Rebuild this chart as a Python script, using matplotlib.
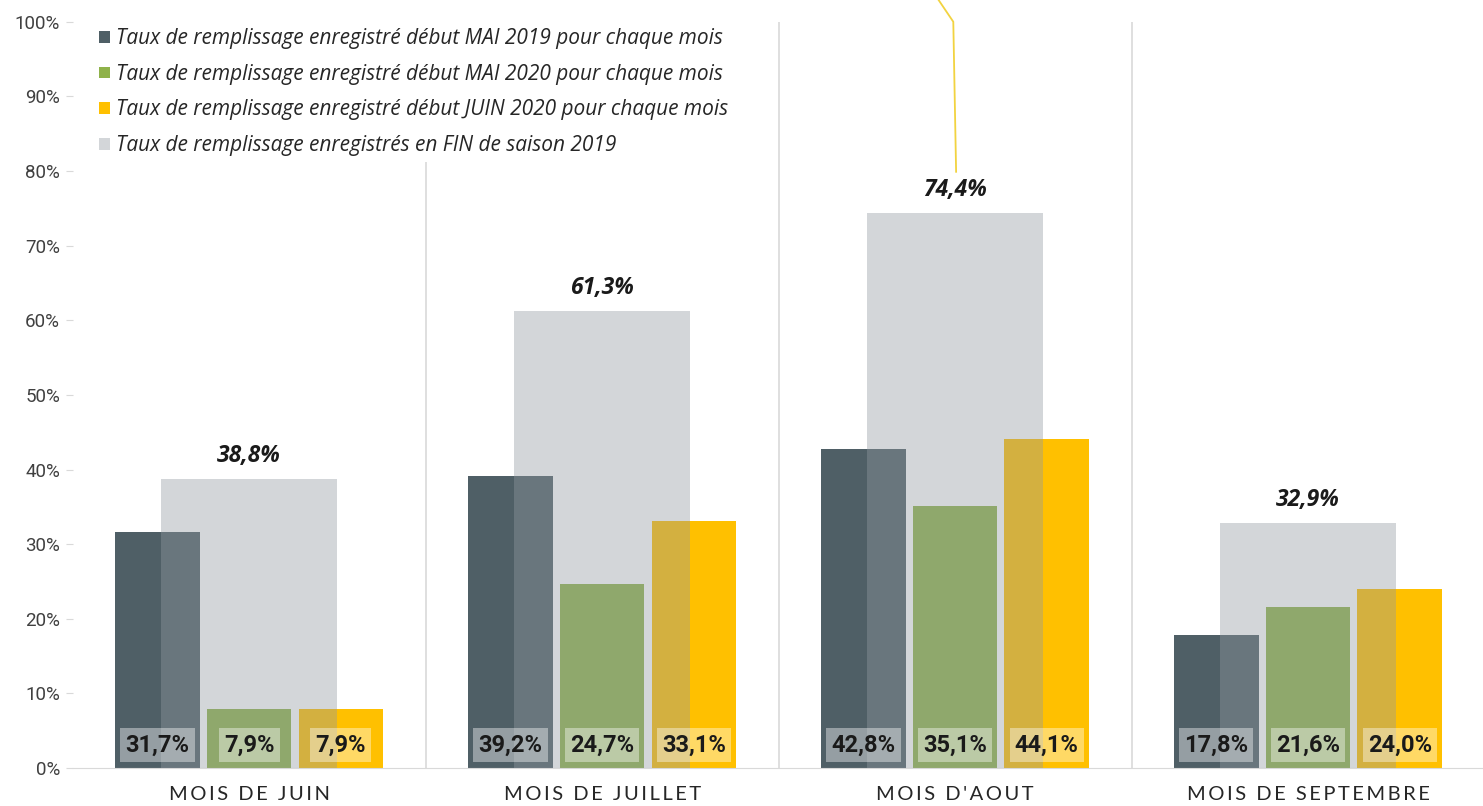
import numpy as np
import matplotlib
matplotlib.use("Agg")
from matplotlib import pyplot as plt

mois = ["MOIS DE JUIN", "MOIS DE JUILLET", "MOIS D'AOUT", "MOIS DE SEPTEMBRE"]
mai_2019 = [31.7, 39.2, 42.8, 17.8]
mai_2020 = [7.9, 24.7, 35.1, 21.6]
juin_2020 = [7.9, 33.1, 44.1, 24.0]
fin_2019 = [38.8, 61.3, 74.4, 32.9]

legendes = [
    "Taux de remplissage enregistré début MAI 2019 pour chaque mois",
    "Taux de remplissage enregistré début MAI 2020 pour chaque mois",
    "Taux de remplissage enregistré début JUIN 2020 pour chaque mois",
    "Taux de remplissage enregistrés en FIN de saison 2019",
]

c_2019 = "#4f5f66"
c_mai20 = "#8fb24a"
c_juin20 = "#ffc000"
c_fin = (0.57, 0.60, 0.63, 0.4)

plt.rcParams["font.family"] = ["Open Sans", "DejaVu Sans"]

fig = plt.figure(figsize=(14.83, 8.06), dpi=100)
ax = fig.add_axes([0.049, 0.047, 0.952, 0.926])

x = np.arange(len(mois))
w = 0.24
off = 0.26

b1 = ax.bar(x - off, mai_2019, w, color=c_2019, label=legendes[0], zorder=2)
b2 = ax.bar(x, mai_2020, w, color=c_mai20, label=legendes[1], zorder=2)
b3 = ax.bar(x + off, juin_2020, w, color=c_juin20, label=legendes[2], zorder=2)
# grey "fin de saison" bar drawn on top, semi transparent
b4 = ax.bar(x, fin_2019, 0.5, color=c_fin, label=legendes[3], zorder=3)

for bars, vals in [(b1, mai_2019), (b2, mai_2020), (b3, juin_2020)]:
    for rect, v in zip(bars, vals):
        ax.text(rect.get_x() + rect.get_width() / 2, 3.1,
                f"{v:.1f}%".replace(".", ","),
                ha="center", va="center", fontsize=17, fontweight="bold",
                color="#1a1a1a", zorder=5, family=["Roboto", "DejaVu Sans"],
                bbox=dict(boxstyle="square,pad=0.22", fc=(1, 1, 1, 0.4), ec="none"))

for xi, v in zip(x, fin_2019):
    ax.text(xi, v + 3.0, f"{v:.1f}%".replace(".", ","), ha="center", va="center",
            fontsize=16.5, fontweight="bold", fontstyle="italic", color="#1a1a1a", zorder=5)

# dividers between months
for xi in x[:-1] + 0.5:
    ax.plot([xi, xi], [0, 100], color="#d9d9d9", lw=1.2, zorder=0)

# leader line coming from a callout above the chart (August)
i_aout = 2
ax.plot([i_aout + 0.003, i_aout - 0.005, i_aout - 0.055],
        [fin_2019[i_aout] + 5.5, 100, 103.5],
        color="#f2d340", lw=1.3, clip_on=False, zorder=4)

ax.set_xlim(-0.5, 3.5)
ax.set_ylim(0, 100)
ax.set_yticks(np.arange(0, 101, 10))
ax.set_yticklabels([f"{t}%" for t in range(0, 101, 10)], fontsize=13.5, color="#404040",
                   family=["Roboto", "DejaVu Sans"])
ax.tick_params(axis="y", length=5, color="#d9d9d9", pad=4)
ax.set_xticks(x)
# spaced capitals like the original
ax.set_xticklabels(["\u2009".join(m) for m in mois], fontsize=14.5, color="#262626",
                   family=["Lato", "DejaVu Sans"])
ax.tick_params(axis="x", length=0, pad=13)
for s in ["top", "right", "left"]:
    ax.spines[s].set_visible(False)
ax.spines["bottom"].set_color("#d9d9d9")

leg = ax.legend(loc="upper left", bbox_to_anchor=(0.01, 1.008), frameon=True,
                framealpha=1, edgecolor="none", facecolor="white",
                handlelength=0.5, handleheight=0.5, handletextpad=0.3,
                labelspacing=0.7, borderpad=0.3, borderaxespad=0.3,
                prop=dict(size=15, style="italic"))
leg.set_zorder(6)
for t in leg.get_texts():
    t.set_color("#262626")

fig.savefig("out.png", dpi=100)
